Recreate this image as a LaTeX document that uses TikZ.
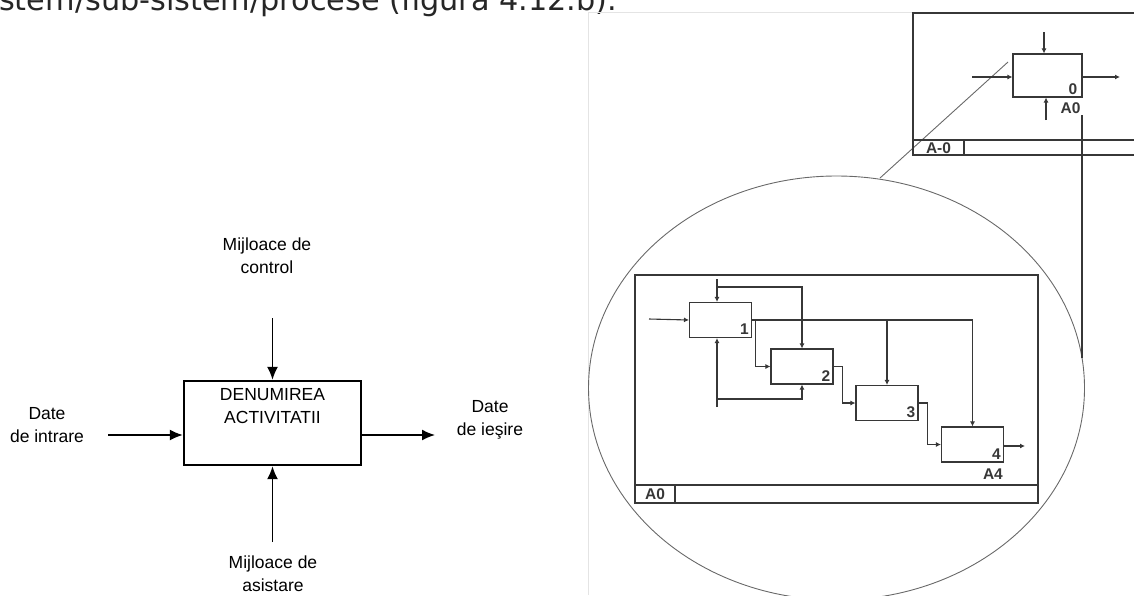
\documentclass[tikz,border=0pt]{standalone}
\usepackage{fontspec}
\setmainfont{Liberation Sans}
\newfontfamily\bodyfont{DejaVu Sans}
\usetikzlibrary{arrows.meta,positioning}
\definecolor{Frame}{RGB}{55,55,55}
\definecolor{Lens}{RGB}{105,105,105}
\definecolor{Page}{RGB}{228,228,228}

\tikzset{
  bigarrow/.style={line width=1.5pt, -{Latex[length=13pt,width=11pt]}},
  tinyarrow/.style={line width=1.1pt, Frame, -{Latex[length=5pt,width=5pt]}},
  wire/.style={line width=1.1pt, Frame},
  actbox/.style={draw, line width=2.4pt, minimum width=177pt, minimum height=84pt, inner sep=0pt},
  funcbox/.style={draw=Frame, line width=1.1pt, minimum width=62pt, minimum height=35pt, inner sep=0pt},
  lbl/.style={font=\fontsize{17.5}{23}\selectfont, align=center, inner sep=0pt},
  tag/.style={font=\fontsize{15.5}{16}\selectfont\bfseries, text=Frame, inner sep=0pt}
}

\begin{document}
\begin{tikzpicture}[x=1pt,y=-1pt]
\useasboundingbox (0,0) rectangle (1134,595);
\clip (0,0) rectangle (1134,595);

% page text and picture border
\node[font=\bodyfont\fontsize{30.3}{31}\selectfont, anchor=base west, inner sep=0pt, text=black!85] (caption) at (-1,10) {stem/sub-sistem/procese (figura 4.12.b).};
\draw[Page, line width=0.8pt] (588,595) -- (588,12) -- (913,12);

% activity box
\node[actbox] (act) at (272.5,423) {};
\node[lbl, below=8pt of act.north] (actname) {DENUMIREA\\ACTIVITATII};

\coordinate (ctlS) at (272.5,318);
\coordinate (mechS) at (272.5,542);
\coordinate (inS) at (108,435);
\coordinate (outE) at (435,435);
\draw[bigarrow] (ctlS) -- (act.north);
\draw[bigarrow] (mechS) -- (act.south);
\draw[bigarrow] (inS) -- (inS -| act.west);
\draw[bigarrow] (act.east |- outE) -- (outE);

\node[lbl] (ctlname) at (267,256) {Mijloace de\\control};
\node[lbl] (inname) at (47,425.5) {Date\\de intrare};
\node[lbl] (outname) at (490,420) {Date\\de ieşire};
\node[lbl] (mechname) at (273,573.5) {Mijloace de\\asistare};

% zoom lens
\draw[Lens, line width=0.9pt] (836.5,388) ellipse [x radius=248pt, y radius=212pt];
\coordinate (lensA) at (1008,62);
\coordinate (lensB) at (880,178);
\coordinate (lensC) at (1082,115);
\coordinate (lensD) at (1082,358);
\draw[Lens, line width=0.9pt] (lensA) -- (lensB);
\draw[Frame, line width=1.1pt] (lensC) -- (lensD);

% context diagram A-0
\draw[wire] (913,13) rectangle (1140,155);
\draw[wire] (913,140) -- (1140,140);
\draw[wire] (964,140) -- (964,155);
\node[tag] (ctxtag) at (938.5,148) {A-0};

\node[funcbox, minimum width=69pt, minimum height=43pt] (b0) at (1047.5,75.5) {};
\node[tag, anchor=south east] (b0num) at ([shift={(-5pt,3pt)}]b0.south east) {0};
\node[tag] (b0tag) at (1070.5,108) {A0};
\coordinate (b0c) at (1044,32);
\coordinate (b0i) at (972,77);
\coordinate (b0o) at (1120,77);
\coordinate (b0m) at (1046,120);
\draw[tinyarrow] (b0c) -- (b0c |- b0.north);
\draw[tinyarrow] (b0i) -- (b0i -| b0.west);
\draw[tinyarrow] (b0.east |- b0o) -- (b0o);
\draw[tinyarrow] (b0m) -- (b0m |- b0.south);

% decomposition A0
\draw[wire] (635,275) rectangle (1038,503);
\draw[wire] (635,485) -- (1038,485);
\draw[wire] (675,485) -- (675,503);
\node[tag] (deptag) at (655,494.5) {A0};

\node[funcbox] (n1) at (720.5,320) {};
\node[funcbox] (n2) at (802,366.5) {};
\node[funcbox] (n3) at (887,403) {};
\node[funcbox] (n4) at (972.5,444.5) {};
\node[tag, anchor=south east] (n1num) at ([shift={(-3pt,3pt)}]n1.south east) {1};
\node[tag, anchor=south east] (n2num) at ([shift={(-3pt,3pt)}]n2.south east) {2};
\node[tag, anchor=south east] (n3num) at ([shift={(-3pt,3pt)}]n3.south east) {3};
\node[tag, anchor=south east] (n4num) at ([shift={(-3pt,3pt)}]n4.south east) {4};
\node[tag, anchor=north east] (n4tag) at ([shift={(-1pt,-6pt)}]n4.south east) {A4};

\coordinate (ins) at (649,319);
\coordinate (ctl) at (717,279);
\coordinate (ctlb) at (717,287);
\coordinate (mech) at (717,407);
\coordinate (mechb) at (717,399);
\coordinate (outs) at (1025,446);

\draw[tinyarrow] (ins) -- (n1.west);
\draw[tinyarrow] (ctl) -- (ctl |- n1.north);
\draw[tinyarrow] (ctlb) -| (n2.north);
\draw[tinyarrow] (mech) -- (mech |- n1.south);
\draw[tinyarrow] (mechb) -| (n2.south);
\draw[tinyarrow] (n1.east) -| (n4.north);
\draw[tinyarrow] (n3.north |- n1.east) -- (n3.north);
\draw[tinyarrow] (n1.east) -- ++(3,0) |- (n2.west);
\draw[tinyarrow] (n2.east) -- ++(9,0) |- (n3.west);
\draw[tinyarrow] (n3.east) -- ++(9,0) |- (n4.west);
\draw[tinyarrow] (n4.east) -- (outs -| n4.east) -- (outs);
\end{tikzpicture}
\end{document}
